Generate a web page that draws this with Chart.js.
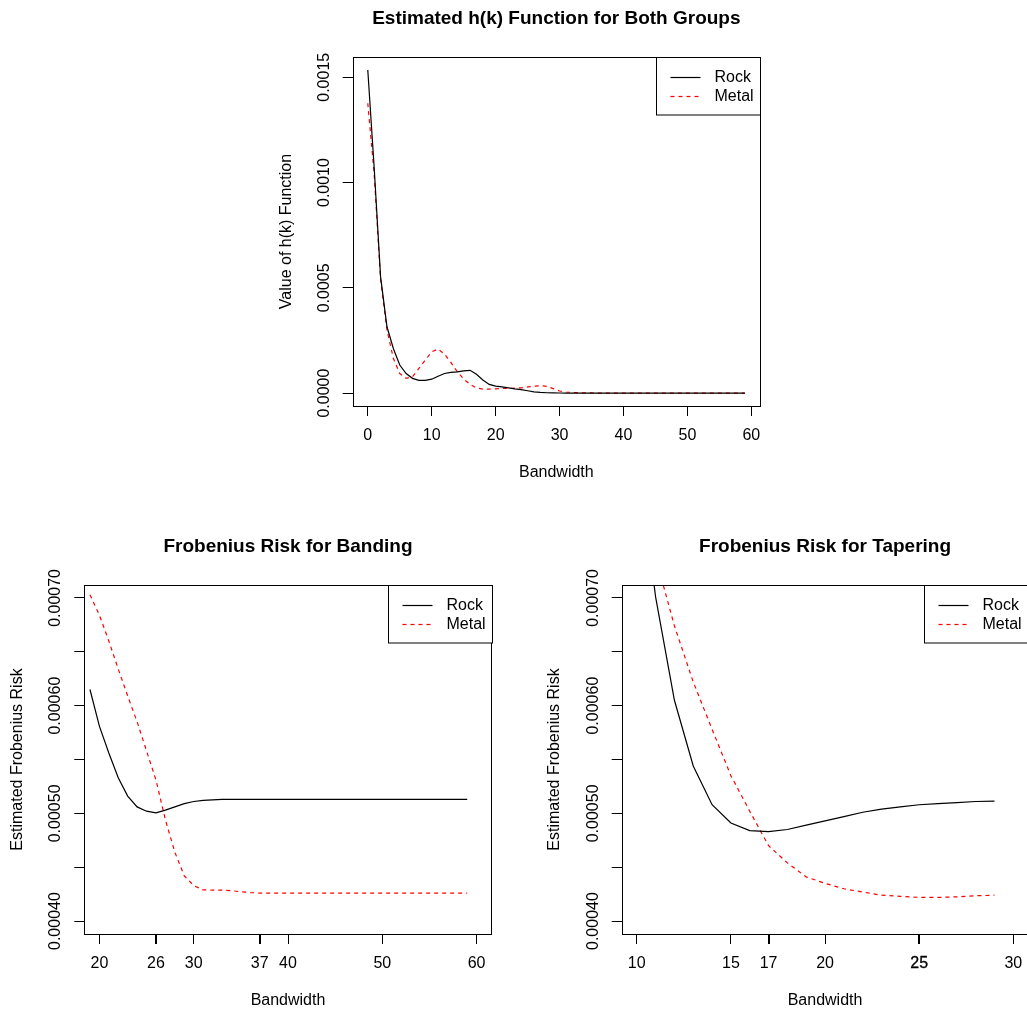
<!DOCTYPE html>
<html>
<head>
<meta charset="utf-8">
<title>h(k) and Frobenius risk</title>
<script src="https://cdn.jsdelivr.net/npm/chart.js@4.4.1/dist/chart.umd.min.js"></script>
<style>
  html, body { margin: 0; padding: 0; background: #fff; overflow: hidden; width: 1027px; height: 1012px; }
  canvas { position: absolute; }
</style>
</head>
<body>
<canvas id="hkChart" width="540" height="500" style="left:252px;top:0px"></canvas>
<canvas id="bandChart" width="520" height="492" style="left:0px;top:520px"></canvas>
<canvas id="taperChart" width="540" height="492" style="left:530px;top:520px"></canvas>
<script>
// ---- data ----
const hkBandwidth = [0, 1, 2, 3, 4, 5, 6, 7, 8, 9, 10, 11, 12, 13, 14, 15, 16, 17, 18, 19,
    20, 21, 22, 23, 24, 25, 26, 27, 28, 29, 30, 31, 32, 33, 34, 35, 36, 37, 38, 39,
    40, 41, 42, 43, 44, 45, 46, 47, 48, 49, 50, 51, 52, 53, 54, 55, 56, 57, 58, 59];
const hkRock = [0.001535, 0.00107, 0.000553, 0.000315, 0.000212, 0.000133, 0.000093, 0.00007, 0.00006, 0.00006,
    0.000066, 0.00008, 0.000093, 0.000098, 0.000101, 0.000105, 0.000108, 0.000089, 0.000062, 0.000041,
    0.000033, 0.000029, 0.000025, 0.00002, 0.000016, 0.000011, 0.000006, 0.000003, 0.0000015, 0.0000008,
    0.0000004, 0.0000002, 0.0000001, 0, 0, 0, 0, 0, 0, 0,
    0, 0, 0, 0, 0, 0, 0, 0, 0, 0,
    0, 0, 0, 0, 0, 0, 0, 0, 0, 0];
const hkMetal = [0.001377, 0.00104, 0.00054, 0.0003, 0.000165, 0.000093, 0.00007, 0.000078, 0.000117, 0.000157,
    0.000196, 0.000209, 0.000185, 0.000146, 0.000101, 0.000067, 0.000041, 0.000024, 0.000019, 0.000019,
    0.00002, 0.000022, 0.000022, 0.000024, 0.000025, 0.000029, 0.000033, 0.000035, 0.000032, 0.000021,
    0.00001, 0.000005, 0.000003, 0.000002, 0.000001, 0.0000005, 0, 0, 0, 0,
    0, 0, 0, 0, 0, 0, 0, 0, 0, 0,
    0, 0, 0, 0, 0, 0, 0, 0, 0, 0];
const hkXTicks = [0, 10, 20, 30, 40, 50, 60];
const hkYTicks = [0, 0.0005, 0.001, 0.0015];
const hkYTickLabels = ['0.0000', '0.0005', '0.0010', '0.0015'];

const bandBandwidth = [19, 20, 21, 22, 23, 24, 25, 26, 27, 28, 29, 30, 31, 32, 33, 34, 35, 36, 37, 38,
    39, 40, 41, 42, 43, 44, 45, 46, 47, 48, 49, 50, 51, 52, 53, 54, 55, 56, 57, 58, 59];
const bandRock = [0.000615, 0.000581, 0.000556, 0.000533, 0.000516, 0.000506, 0.000502, 0.0005005, 0.000503, 0.000506,
    0.000509, 0.000511, 0.000512, 0.0005125, 0.000513, 0.000513, 0.000513, 0.000513, 0.000513, 0.000513,
    0.000513, 0.000513, 0.000513, 0.000513, 0.000513, 0.000513, 0.000513, 0.000513, 0.000513, 0.000513,
    0.000513, 0.000513, 0.000513, 0.000513, 0.000513, 0.000513, 0.000513, 0.000513, 0.000513, 0.000513, 0.000513];
const bandMetal = [0.000703, 0.000684, 0.00066, 0.000634, 0.000609, 0.000585, 0.000558, 0.000531, 0.000494, 0.000464,
    0.000442, 0.000433, 0.000429, 0.0004288, 0.0004287, 0.0004282, 0.0004272, 0.0004265, 0.000426, 0.000426,
    0.000426, 0.000426, 0.000426, 0.000426, 0.000426, 0.000426, 0.000426, 0.000426, 0.000426, 0.000426,
    0.000426, 0.000426, 0.000426, 0.000426, 0.000426, 0.000426, 0.000426, 0.000426, 0.000426, 0.000426, 0.000426];
const bandXTicks = [20, 26, 30, 37, 40, 50, 60];
const bandBoldTicks = [26, 37];

const taperBandwidth = [10, 11, 12, 13, 14, 15, 16, 17, 18, 19, 20, 21, 22, 23, 24, 25, 26, 27, 28, 29];
const taperRock = [0.00084, 0.000701, 0.000605, 0.000544, 0.000508, 0.000491, 0.000484, 0.000483, 0.000485, 0.000489,
    0.000493, 0.000497, 0.000501, 0.000504, 0.000506, 0.000508, 0.000509, 0.00051, 0.000511, 0.0005113];
const taperMetal = [0.00082, 0.000738, 0.000674, 0.000622, 0.000578, 0.000535, 0.000502, 0.00047, 0.000454, 0.000441,
    0.000435, 0.00043, 0.000427, 0.000424, 0.000423, 0.000422, 0.000422, 0.0004225, 0.0004235, 0.000424];
const taperXTicks = [10, 15, 17, 20, 25, 30];
const taperBoldTicks = [17, 25];

const riskYTicks = [0.0004, 0.00045, 0.0005, 0.00055, 0.0006, 0.00065, 0.0007];
const riskYTickLabels = ['0.00040', '', '0.00050', '', '0.00060', '', '0.00070'];

const seriesNames = ['Rock', 'Metal'];

Chart.defaults.font.family = '"Liberation Sans", Arial, Helvetica, sans-serif';
Chart.defaults.font.size = 16;
Chart.defaults.color = '#000';

// R pads the axis range by 4% on each side
function rRange(lo, hi) {
    const d = (hi - lo) * 0.04;
    return [lo - d, hi + d];
}

function widestLabel(labels) {
    const c = document.createElement('canvas').getContext('2d');
    c.font = '16px "Liberation Sans", Arial, sans-serif';
    return Math.max(...labels.map(s => c.measureText(s).width));
}

// box round the plot region + R style legend in the top right corner
const rFrame = {
    id: 'rFrame',
    afterDatasetsDraw(chart) {
        const { ctx, chartArea: a } = chart;
        ctx.save();
        ctx.strokeStyle = '#000';
        ctx.lineWidth = 1;
        ctx.setLineDash([]);
        ctx.strokeRect(Math.round(a.left) + 0.5, Math.round(a.top) + 0.5,
            Math.round(a.right - a.left), Math.round(a.bottom - a.top));

        const w = 104, h = 57.5;
        const x0 = Math.round(a.right - w) + 0.5, y0 = Math.round(a.top) + 0.5;
        ctx.fillStyle = '#fff';
        ctx.fillRect(x0, y0, w, h);
        ctx.strokeRect(x0, y0, w, h);
        ctx.font = '16px "Liberation Sans", Arial, sans-serif';
        ctx.textBaseline = 'middle';
        ctx.textAlign = 'left';
        chart.data.datasets.forEach((ds, i) => {
            const y = Math.round(y0 + 19.5 + i * 19) + 0.5;
            ctx.strokeStyle = ds.borderColor;
            ctx.lineWidth = ds.borderWidth;
            ctx.setLineDash(ds.borderDash || []);
            ctx.beginPath();
            ctx.moveTo(x0 + 14, y);
            ctx.lineTo(x0 + 44, y);
            ctx.stroke();
            ctx.fillStyle = '#000';
            ctx.fillText(ds.label, x0 + 58, y);
        });
        ctx.restore();
    }
};

function makeChart(id, c) {
    const tl = 10;
    const yPad = 28.5 - tl - widestLabel(c.yLabels) / 2;
    const toPoints = (xs, ys) => xs.map((x, i) => ({ x: x, y: ys[i] }));
    return new Chart(document.getElementById(id), {
        type: 'line',
        data: {
            datasets: [
                { label: seriesNames[0], data: toPoints(c.x, c.rock), borderColor: '#000000', borderWidth: 1.2, pointRadius: 0, tension: 0 },
                { label: seriesNames[1], data: toPoints(c.x, c.metal), borderColor: '#ff0000', borderWidth: 1.2, borderDash: [4, 4], pointRadius: 0, tension: 0 }
            ]
        },
        options: {
            responsive: false,
            animation: false,
            layout: { padding: { left: 0, right: c.padRight, top: 0, bottom: 0 } },
            scales: {
                x: {
                    type: 'linear',
                    min: c.xRange[0],
                    max: c.xRange[1],
                    afterBuildTicks: (s) => { s.ticks = c.xTicks.map(v => ({ value: v })); },
                    afterFit: (s) => { s.height = c.xAxisHeight; },
                    ticks: {
                        autoSkip: false,
                        maxRotation: 0,
                        padding: 10.4,
                        callback: (v) => String(v),
                        textStrokeColor: '#000',
                        textStrokeWidth: (ctx) => (ctx.tick && c.boldLabels.includes(ctx.tick.value)) ? 0.3 : 0
                    },
                    grid: {
                        drawOnChartArea: false,
                        drawTicks: true,
                        tickLength: tl,
                        color: '#000',
                        lineWidth: (ctx) => (ctx.tick && c.boldTicks.includes(ctx.tick.value)) ? 2 : 1
                    },
                    border: { display: false },
                    title: { display: true, text: 'Bandwidth', font: { size: 16 }, padding: { top: 0, bottom: c.xTitlePad } }
                },
                y: {
                    type: 'linear',
                    min: c.yRange[0],
                    max: c.yRange[1],
                    afterBuildTicks: (s) => { s.ticks = c.yTicks.map(v => ({ value: v })); },
                    afterFit: (s) => { s.width = c.yAxisWidth; },
                    ticks: {
                        autoSkip: false,
                        minRotation: 90,
                        maxRotation: 90,
                        crossAlign: 'center',
                        padding: yPad,
                        callback: (v, i) => c.yLabels[i]
                    },
                    grid: { drawOnChartArea: false, drawTicks: true, tickLength: tl, color: '#000', lineWidth: 1 },
                    border: { display: false },
                    title: { display: true, text: c.yTitle, font: { size: 16 }, padding: { top: c.yTitlePad, bottom: 0 } }
                }
            },
            plugins: {
                legend: { display: false },
                tooltip: { enabled: false },
                title: {
                    display: true,
                    fullSize: false,
                    text: c.title,
                    color: '#000',
                    font: { size: 19, weight: 'bold' },
                    padding: { top: c.titlePadTop, bottom: c.titlePadBottom }
                }
            }
        },
        plugins: [rFrame]
    });
}

makeChart('hkChart', {
    title: 'Estimated h(k) Function for Both Groups',
    yTitle: 'Value of h(k) Function',
    x: hkBandwidth, rock: hkRock, metal: hkMetal,
    xRange: rRange(Math.min(...hkBandwidth), Math.max(...hkBandwidth)),
    yRange: rRange(Math.min(...hkRock, ...hkMetal), Math.max(...hkRock, ...hkMetal)),
    xTicks: hkXTicks, yTicks: hkYTicks, yLabels: hkYTickLabels,
    boldTicks: [], boldLabels: [],
    padRight: 32, xAxisHeight: 94, yAxisWidth: 100.7,
    titlePadTop: 6.9, titlePadBottom: 27.3, xTitlePad: 17.9, yTitlePad: 24.9
});

makeChart('bandChart', {
    title: 'Frobenius Risk for Banding',
    yTitle: 'Estimated Frobenius Risk',
    x: bandBandwidth, rock: bandRock, metal: bandMetal,
    xRange: rRange(20, 60),
    yRange: rRange(0.0004, 0.0007),
    xTicks: bandXTicks, yTicks: riskYTicks, yLabels: riskYTickLabels,
    boldTicks: bandBoldTicks, boldLabels: [],
    padRight: 28.3, xAxisHeight: 78, yAxisWidth: 84.3,
    titlePadTop: 14.9, titlePadBottom: 27.3, xTitlePad: 1.9, yTitlePad: 7.9
});

makeChart('taperChart', {
    title: 'Frobenius Risk for Tapering',
    yTitle: 'Estimated Frobenius Risk',
    x: taperBandwidth, rock: taperRock, metal: taperMetal,
    xRange: rRange(10, 30),
    yRange: rRange(0.0004, 0.0007),
    xTicks: taperXTicks, yTicks: riskYTicks, yLabels: riskYTickLabels,
    boldTicks: taperBoldTicks, boldLabels: [25],
    padRight: 41.6, xAxisHeight: 78, yAxisWidth: 91.7,
    titlePadTop: 14.9, titlePadBottom: 27.3, xTitlePad: 1.9, yTitlePad: 14.9
});
</script>
</body>
</html>
